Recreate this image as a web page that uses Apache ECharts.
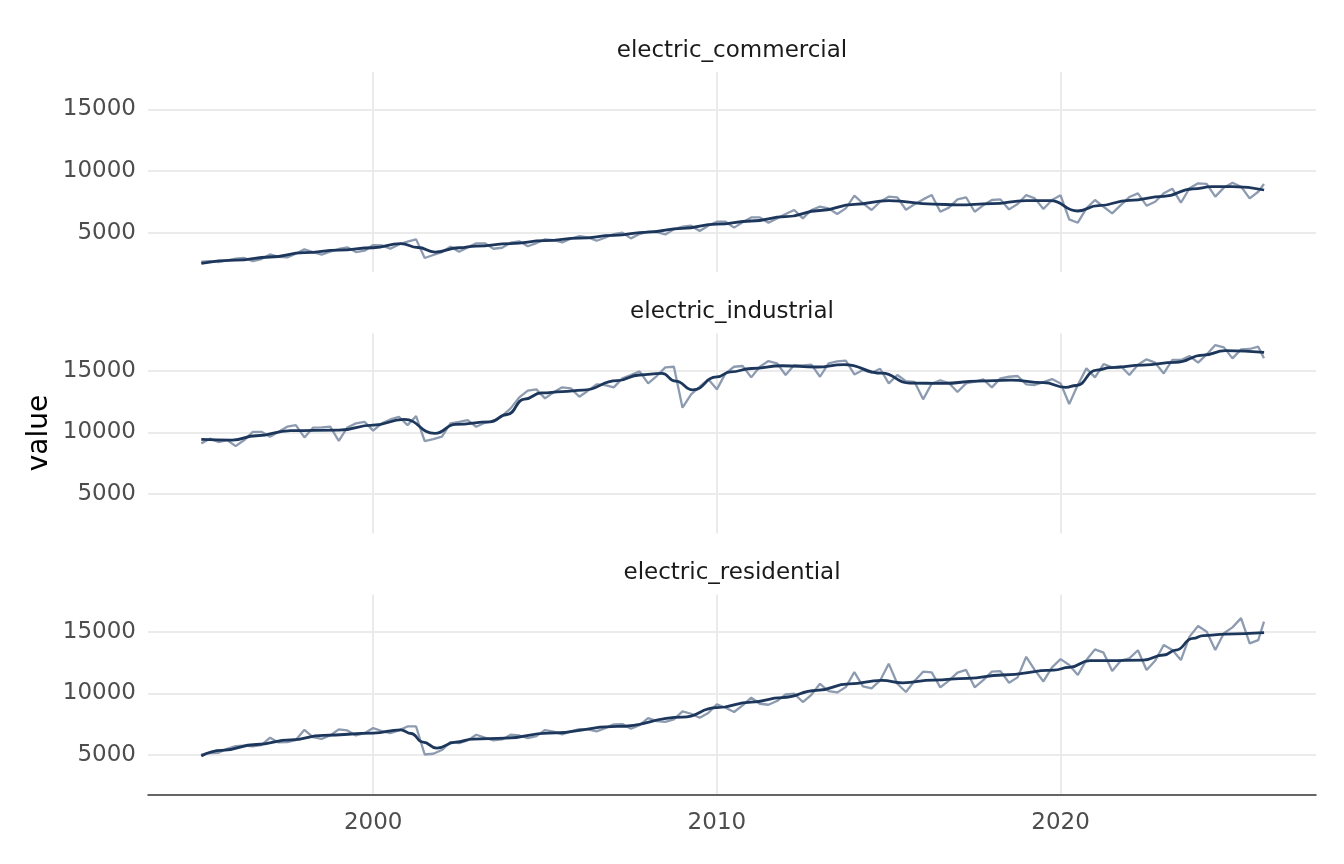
<!DOCTYPE html>
<html>
<head>
<meta charset="utf-8">
<script src="https://cdn.jsdelivr.net/npm/echarts@6/dist/echarts.min.js"></script>
<style>
  html, body { margin: 0; padding: 0; background: #fff; }
  #chart { width: 1344px; height: 864px; }
</style>
</head>
<body>
<div id="chart"></div>
<script>
// quarterly readings, Jan 1995 .. Oct 2025, last value is Dec 2025
var panels = ['electric_commercial', 'electric_industrial', 'electric_residential'];

var commercial = [
  2650, 2700, 2620, 2760, 2890, 2950, 2700, 2860, 3240, 3050, 3000, 3300,
  3650, 3430, 3220, 3460, 3680, 3810, 3430, 3540, 4000, 3970, 3700, 4050,
  4270, 4460, 2950, 3190, 3430, 3860, 3460, 3810, 4140, 4140, 3700, 3780,
  4190, 4300, 3900, 4160, 4460, 4400, 4220, 4510, 4730, 4620, 4350, 4590,
  4890, 5000, 4540, 4890, 5080, 5050, 4860, 5270, 5490, 5570, 5140, 5570,
  5890, 5890, 5410, 5840, 6240, 6240, 5810, 6160, 6510, 6840, 6160, 6840,
  7110, 6970, 6510, 6970, 8000, 7380, 6840, 7510, 7920, 7870, 6860, 7300,
  7700, 8050, 6700, 7030, 7700, 7870, 6700, 7220, 7650, 7700, 6890, 7320,
  8050, 7780, 6920, 7650, 8030, 6080, 5810, 6970, 7650, 7100, 6570, 7240,
  7890, 8190, 7190, 7510, 8190, 8570, 7430, 8600, 9000, 8950, 7920, 8650,
  9050, 8730, 7780, 8320, 8950
];

var industrial = [
  9110, 9490, 9220, 9380, 8890, 9380, 10050, 10050, 9650, 10050, 10460, 10590,
  9590, 10380, 10400, 10460, 9320, 10400, 10730, 10860, 10140, 10730, 11050, 11270,
  10590, 11320, 9300, 9460, 9650, 10730, 10860, 11000, 10460, 10780, 10920, 11320,
  11950, 12840, 13380, 13490, 12760, 13250, 13650, 13570, 12890, 13380, 13890, 13840,
  13650, 14380, 14650, 14950, 13970, 14570, 15270, 15320, 12000, 13080, 13700, 14300,
  13490, 14780, 15320, 15380, 14460, 15320, 15780, 15600, 14650, 15460, 15430, 15490,
  14510, 15600, 15760, 15810, 14700, 15050, 14840, 15160, 13970, 14650, 14160, 14100,
  12680, 13950, 14220, 14000, 13270, 13970, 14110, 14300, 13650, 14380, 14510, 14570,
  13890, 13840, 14080, 14320, 13970, 12300, 13840, 15190, 14460, 15540, 15270, 15380,
  14650, 15490, 15920, 15650, 14780, 15870, 15870, 16190, 15650, 16320, 17080, 16890,
  16000, 16730, 16760, 16950, 16000
];

var residential = [
  5050, 5160, 5190, 5510, 5730, 5760, 5700, 5810, 6410, 6030, 6050, 6220,
  7050, 6460, 6320, 6590, 7080, 7000, 6590, 6780, 7190, 6950, 6780, 7000,
  7320, 7320, 5050, 5110, 5410, 6050, 5970, 6190, 6650, 6410, 6190, 6270,
  6650, 6590, 6380, 6540, 7030, 6900, 6680, 6920, 7110, 7080, 6920, 7190,
  7490, 7510, 7140, 7430, 8000, 7760, 7700, 7890, 8540, 8350, 8030, 8410,
  9110, 8840, 8490, 9030, 9650, 9160, 9080, 9380, 9920, 9970, 9300, 9890,
  10780, 10190, 10080, 10510, 11730, 10570, 10410, 11050, 12410, 10780, 10110, 11000,
  11760, 11700, 10490, 11030, 11680, 11900, 10490, 11080, 11760, 11810, 10860, 11300,
  12970, 11890, 10970, 12110, 12780, 12300, 11490, 12700, 13570, 13300, 11810, 12650,
  12840, 13500, 11890, 12650, 13920, 13510, 12700, 14600, 15460, 15000, 13510, 14870,
  15350, 16100, 14050, 14320, 15810
];

// trend line knots
var trendYearsCom = [1995, 1996, 1997, 1998, 1999, 2000, 2000.8, 2001.3, 2001.8, 2002.5, 2003, 2004,
  2005, 2006, 2007, 2008, 2009, 2010, 2011, 2012, 2013, 2014, 2015, 2016.3, 2017, 2018, 2019,
  2019.7, 2020.5, 2021.1, 2022, 2023, 2023.85, 2024.4, 2025, 2025.92];
var trendCom = [2520, 2780, 3030, 3380, 3580, 3780, 4120, 3800, 3430, 3780, 3920, 4120,
  4350, 4560, 4780, 5050, 5350, 5700, 5950, 6300, 6800, 7300, 7600, 7320, 7250, 7350, 7600,
  7600, 6760, 7190, 7620, 7950, 8550, 8730, 8730, 8460];

var trendYearsInd = [1995, 1995.9, 1996.6, 1997.6, 1999, 2000, 2000.9, 2001.8, 2002.4, 2003.4, 2003.9,
  2004.4, 2004.9, 2005.5, 2006.1, 2007.1, 2007.75, 2008.4, 2008.8, 2009.3, 2010, 2010.4, 2011,
  2011.9, 2012.9, 2013.7, 2014.8, 2015.6, 2016.6, 2017.6, 2018.55, 2019.5, 2020.15, 2020.45,
  2021.05, 2021.45, 2022.4, 2023.35, 2024.15, 2024.8, 2025.92];
var trendInd = [9430, 9380, 9730, 10150, 10190, 10590, 11050, 9920, 10650, 10860, 11450,
  12700, 13200, 13300, 13430, 14190, 14650, 14780, 14150, 13450, 14500, 14900, 15180,
  15400, 15300, 15500, 14800, 14000, 13970, 14160, 14240, 14030, 13650, 13800,
  15050, 15250, 15460, 15680, 16270, 16620, 16490];

var trendYearsRes = [1995, 1995.6, 1996.6, 1997.6, 1998.55, 2000, 2000.8, 2001.1, 2001.45, 2001.85,
  2002.4, 2002.9, 2003.85, 2005.1, 2007.1, 2009, 2010, 2011, 2011.9, 2012.9, 2013.85, 2014.8,
  2015.4, 2016.3, 2017.3, 2018.3, 2019.8, 2020.25, 2020.85, 2021.4, 2022.4, 2023, 2023.35,
  2023.85, 2024.15, 2024.8, 2025.92];
var trendRes = [4920, 5380, 5860, 6240, 6600, 6780, 7050, 6750, 6050, 5570,
  6050, 6300, 6380, 6780, 7320, 8080, 8840, 9300, 9650, 10240, 10780, 11050,
  10860, 11080, 11220, 11490, 11890, 12110, 12650, 12650, 12700, 13110, 13510,
  14460, 14680, 14810, 14920];

var rawValues = [commercial, industrial, residential];
var trendYears = [trendYearsCom, trendYearsInd, trendYearsRes];
var trendValues = [trendCom, trendInd, trendRes];

function rawTime(i, n) {
  return i === n - 1 ? 2025 + 11 / 12 : 1995 + i * 0.25;
}

var myChart = echarts.init(document.getElementById('chart'));

var gridTops = [72, 333.4, 594.4];
var grid = [], xAxis = [], yAxis = [], series = [], graphic = [];
var gridColor = '#ebebeb';
var font = 'DejaVu Sans';

for (var p = 0; p < 3; p++) {
  grid.push({ left: 148, right: 28, top: gridTops[p], height: 200 });
  xAxis.push({
    type: 'value', gridIndex: p,
    min: 1993.45, max: 2027.43,
    minInterval: 10, maxInterval: 10,
    axisLine: { show: p === 2, lineStyle: { color: '#333333', width: 1.5 } },
    axisTick: { show: false },
    axisLabel: {
      show: p === 2, color: '#4d4d4d', fontSize: 23, fontFamily: font, margin: 17,
      showMinLabel: false, showMaxLabel: false,
      formatter: function (v) { return v % 10 === 0 ? String(v) : ''; }
    },
    splitLine: { show: true, lineStyle: { color: ['transparent', gridColor, gridColor, gridColor, 'transparent'], width: 2 } }
  });
  yAxis.push({
    type: 'value', gridIndex: p,
    min: 1815, max: 18023,
    minInterval: 5000, maxInterval: 5000,
    axisLine: { show: false },
    axisTick: { show: false },
    axisLabel: {
      color: '#4d4d4d', fontSize: 23, fontFamily: font, margin: 12,
      showMinLabel: false, showMaxLabel: false,
      formatter: function (v) { return v % 5000 === 0 ? String(v) : ''; }
    },
    splitLine: { show: true, lineStyle: { color: ['transparent', gridColor, gridColor, gridColor, 'transparent'], width: 2 } }
  });

  var vals = rawValues[p];
  series.push({
    type: 'line', xAxisIndex: p, yAxisIndex: p,
    data: vals.map(function (v, i) { return [rawTime(i, vals.length), v]; }),
    showSymbol: false,
    lineStyle: { color: '#8d9bb0', width: 2.3 },
    z: 2
  });
  series.push({
    type: 'line', xAxisIndex: p, yAxisIndex: p,
    data: trendYears[p].map(function (t, i) { return [t, trendValues[p][i]]; }),
    showSymbol: false, smooth: 0.5, smoothMonotone: 'x',
    lineStyle: { color: '#1d375c', width: 2.8 },
    z: 3
  });

  graphic.push({
    type: 'text', x: 732, y: gridTops[p] - 21,
    style: { text: panels[p], fontSize: 23, fontFamily: font, fill: '#1a1a1a', textAlign: 'center', textVerticalAlign: 'middle' }
  });
}

graphic.push({
  type: 'text', x: 40, y: 433, rotation: Math.PI / 2,
  style: { text: 'value', fontSize: 28, fontFamily: font, fill: '#000000', textAlign: 'center', textVerticalAlign: 'middle' }
});

var option = {
  animation: false,
  backgroundColor: '#ffffff',
  grid: grid,
  xAxis: xAxis,
  yAxis: yAxis,
  series: series,
  graphic: graphic
};

myChart.setOption(option);
</script>
</body>
</html>
